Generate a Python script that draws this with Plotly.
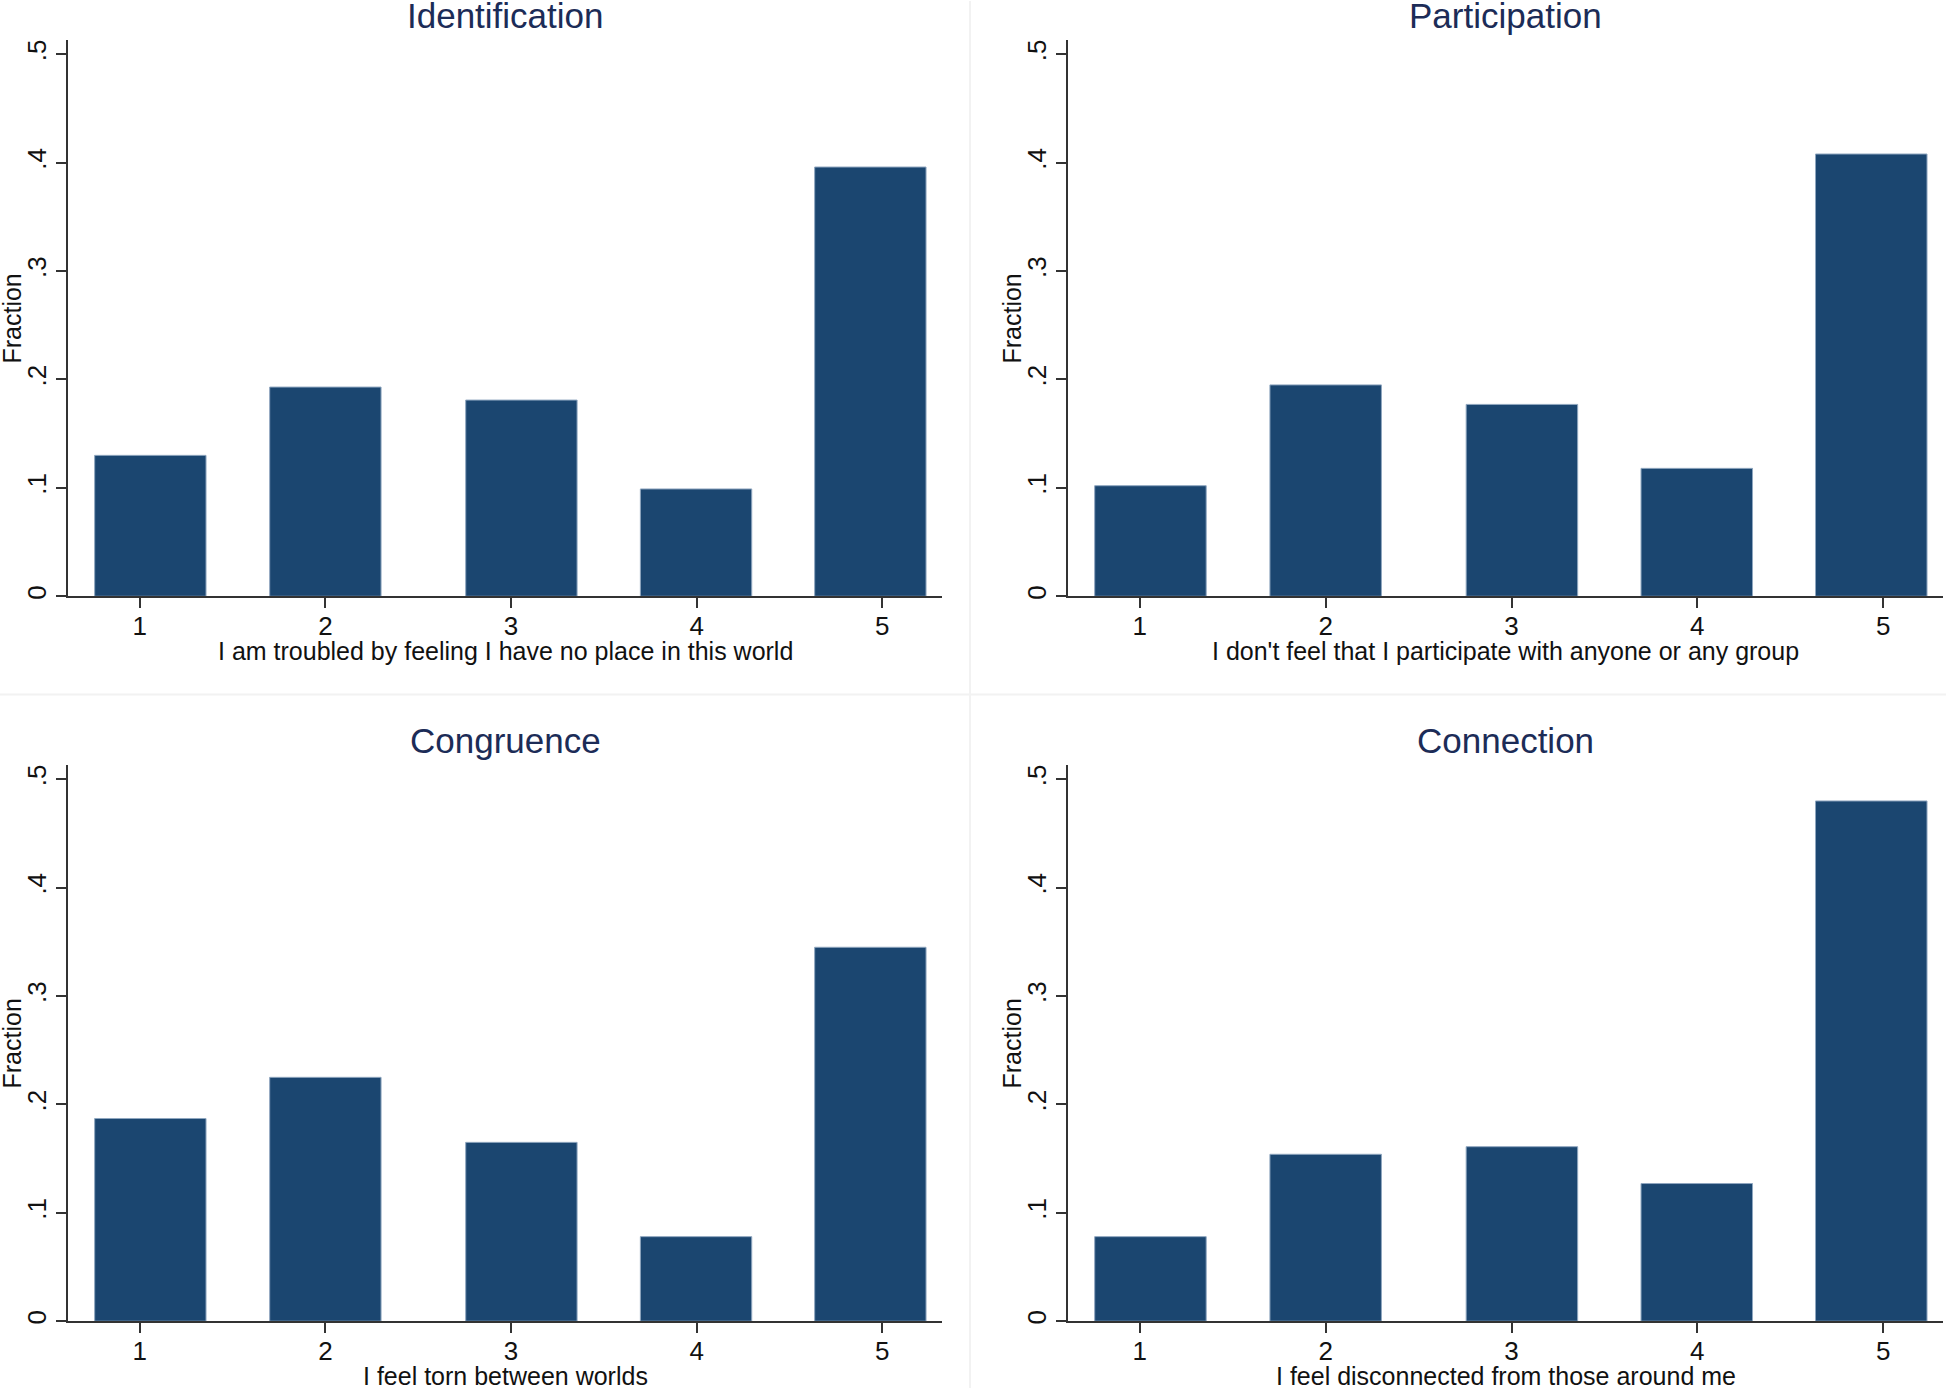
import plotly.graph_objects as go

# ---------------- data ----------------
panel_titles = ["Identification", "Participation", "Congruence", "Connection"]
x_titles = [
    "I am troubled by feeling I have no place in this world",
    "I don't feel that I participate with anyone or any group",
    "I feel torn between worlds",
    "I feel disconnected from those around me",
]
bin_mid = [1.057, 2.0, 3.056, 3.997, 4.936]   # histogram bin midpoints
bin_width = 0.6
identification = [0.130, 0.193, 0.181, 0.099, 0.396]
participation = [0.102, 0.195, 0.177, 0.118, 0.408]
congruence = [0.187, 0.225, 0.165, 0.078, 0.345]
connection = [0.078, 0.154, 0.161, 0.127, 0.480]
x_tick_vals = [1, 2, 3, 4, 5]
x_tick_text = ["1", "2", "3", "4", "5"]
y_tick_vals = [0, 0.1, 0.2, 0.3, 0.4, 0.5]
y_tick_text = ["0", ".1", ".2", ".3", ".4", ".5"]

series = [identification, participation, congruence, connection]

# ---------------- layout geometry ----------------
W, H = 1946, 1391
cols = [(68.3, 942.0), (1068.3, 1943.0)]     # screen px
rows = [(39.3, 597.0), (766.4, 1324.0)]
x_range = [0.615, 5.322]
y_range = [0, 0.513]

BAR = "#1b4670"
FONT = "Liberation Sans, Arial, sans-serif"
TITLE_COLOR = "#1c2c57"
TXT = "#111111"

fig = go.Figure()
layout = dict(
    width=W, height=H,
    margin=dict(l=0, r=0, t=0, b=0, pad=0),
    paper_bgcolor="white", plot_bgcolor="white",
    showlegend=False,
    font=dict(family=FONT, size=25, color=TXT),
)
annotations = []
shapes = []

for i, vals in enumerate(series):
    r, c = divmod(i, 2)
    x0, x1 = cols[c]
    y0, y1 = rows[r]
    n = "" if i == 0 else str(i + 1)
    fig.add_trace(go.Bar(
        x=bin_mid, y=vals, width=bin_width,
        marker=dict(color=BAR, line=dict(color="#8fa6bf", width=1)),
        xaxis="x" + n, yaxis="y" + n,
        hoverinfo="x+y",
    ))
    layout["xaxis" + n] = dict(
        domain=[x0 / W, x1 / W], anchor="y" + n, range=x_range,
        tickvals=x_tick_vals, ticktext=x_tick_text,
        ticks="outside", ticklen=10, tickwidth=1.5, tickcolor="#333333",
        ticklabelstandoff=-4,
        showline=True, linecolor="#333333", linewidth=2,
        showgrid=False, zeroline=False, fixedrange=True,
        tickfont=dict(size=26, color=TXT),
    )
    layout["yaxis" + n] = dict(
        domain=[1 - y1 / H, 1 - y0 / H], anchor="x" + n, range=y_range,
        tickvals=y_tick_vals, ticktext=y_tick_text, tickangle=-90,
        ticks="outside", ticklen=10, tickwidth=1.5, tickcolor="#333333",
        showline=True, linecolor="#333333", linewidth=2,
        showgrid=False, zeroline=False, fixedrange=True,
        tickfont=dict(size=26, color=TXT),
    )
    xc = (x0 + x1) / 2 / W
    # panel title
    annotations.append(dict(
        text=panel_titles[i], x=xc, y=1 - (15 + 727 * r) / H,
        xref="paper", yref="paper", xanchor="center", yanchor="middle",
        showarrow=False, font=dict(size=35, color=TITLE_COLOR, family=FONT),
    ))
    # x-axis title
    annotations.append(dict(
        text=x_titles[i], x=xc, y=1 - (652 + 727 * r) / H,
        xref="paper", yref="paper", xanchor="center", yanchor="middle",
        showarrow=False, font=dict(size=25, color=TXT, family=FONT),
    ))
    # y-axis title
    annotations.append(dict(
        text="Fraction", x=(x0 - 56) / W, y=1 - ((y0 + y1) / 2) / H,
        xref="paper", yref="paper", xanchor="center", yanchor="middle",
        textangle=-90, showarrow=False,
        font=dict(size=25, color=TXT, family=FONT),
    ))

# faint panel separators
shapes.append(dict(type="line", xref="paper", yref="paper",
                   x0=970 / W, x1=970 / W, y0=0, y1=1,
                   line=dict(color="#f2f2f2", width=2)))
shapes.append(dict(type="line", xref="paper", yref="paper",
                   x0=0, x1=1, y0=1 - 695.5 / H, y1=1 - 695.5 / H,
                   line=dict(color="#f2f2f2", width=2)))

layout["annotations"] = annotations
layout["shapes"] = shapes
fig.update_layout(**layout)
fig.write_html(
    "out.html",
    config={"displayModeBar": False},
    post_script="document.body.style.margin='0';document.body.style.overflow='hidden';",
)
